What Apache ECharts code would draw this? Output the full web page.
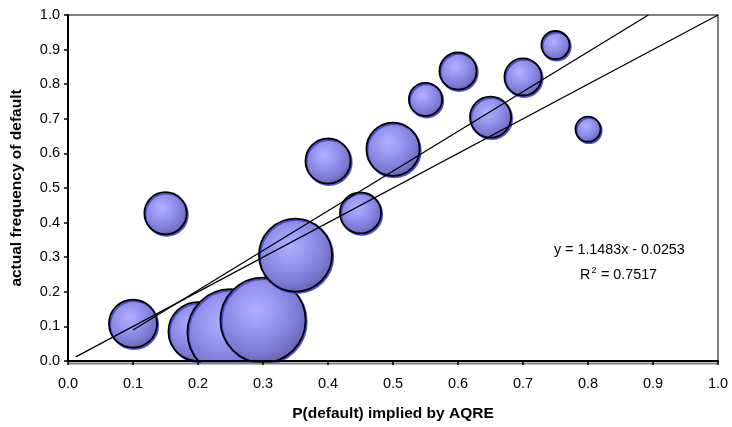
<!DOCTYPE html>
<html>
<head>
<meta charset="utf-8">
<script src="https://cdn.jsdelivr.net/npm/echarts@6/dist/echarts.min.js"></script>
<style>
  html, body { margin: 0; padding: 0; background: #fff; }
  #chart { width: 732px; height: 427px; }
</style>
</head>
<body>
<div id="chart"></div>
<script>
// Implied probability of default (AQRE) per bin
const impliedP = [0.10, 0.15, 0.20, 0.25, 0.30, 0.35, 0.40, 0.45, 0.50, 0.55, 0.60, 0.65, 0.70, 0.75, 0.80];
// Observed frequency of default per bin
const actualFreq = [0.108, 0.427, 0.085, 0.083, 0.118, 0.306, 0.578, 0.428, 0.612, 0.756, 0.838, 0.705, 0.821, 0.913, 0.670];
// Number of observations per bin (bubble area)
const binCount = [69, 54, 103, 215, 210, 156, 61, 51, 84, 34, 42, 51, 42, 25, 20];
// Axis ticks
const tickValues = [0.0, 0.1, 0.2, 0.3, 0.4, 0.5, 0.6, 0.7, 0.8, 0.9, 1.0];
// Linear fit reported on the chart
const fitSlope = 1.1483;
const fitIntercept = -0.0253;
const fitR2 = 0.7517;
// 45-degree reference line
const diagonal = [[0.012, 0.012], [1.0, 1.0]];

const bubbleData = impliedP.map((x, i) => [x, actualFreq[i], binCount[i]]);
const fitStart = Math.min(...impliedP);
const fitEnd = (1.0 - fitIntercept) / fitSlope;
const fitLine = [[fitStart, fitSlope * fitStart + fitIntercept], [fitEnd, 1.0]];

const BW = 1.8;
const bubbleFill = {
  type: 'radial', x: 0.42, y: 0.38, r: 0.64,
  colorStops: [
    { offset: 0, color: '#b0b0ff' },
    { offset: 0.45, color: '#9292ee' },
    { offset: 0.8, color: '#7878cf' },
    { offset: 1, color: '#6464ac' }
  ]
};

const chart = echarts.init(document.getElementById('chart'), null, { renderer: 'canvas' });
const fontFamily = '"Liberation Sans", Arial, sans-serif';
const tickFont = 14.5;

chart.setOption({
  animation: false,
  backgroundColor: '#fff',
  grid: {
    left: 68, right: 14, top: 15, bottom: 65,
    show: true, borderColor: '#808080', borderWidth: 2, backgroundColor: 'transparent'
  },
  xAxis: {
    type: 'value', min: 0, max: 1, interval: 0.1, z: 10,
    name: 'P(default) implied by AQRE', nameLocation: 'middle', nameGap: 45,
    nameTextStyle: { fontFamily, fontSize: 15.5, fontWeight: 'bold', color: '#000' },
    axisLine: { show: true, onZero: false, lineStyle: { color: '#000', width: 2 } },
    axisTick: { show: true, inside: false, length: 4, lineStyle: { color: '#000', width: 1.5 } },
    axisLabel: { fontFamily, fontSize: tickFont, color: '#000', margin: 15,
      formatter: v => v.toFixed(1) },
    splitLine: { show: false }
  },
  yAxis: {
    type: 'value', min: 0, max: 1, interval: 0.1, z: 10,
    name: 'actual frequency of default', nameLocation: 'middle', nameGap: 43,
    nameTextStyle: { fontFamily, fontSize: 15.5, fontWeight: 'bold', color: '#000' },
    axisLine: { show: true, onZero: false, lineStyle: { color: '#000', width: 2 } },
    axisTick: { show: true, inside: false, length: 4, lineStyle: { color: '#000', width: 1.5 } },
    axisLabel: { fontFamily, fontSize: tickFont, color: '#000', margin: 8,
      formatter: v => v.toFixed(1) },
    splitLine: { show: false }
  },
  graphic: [
    // mask bubble overflow beneath the x axis
    { type: 'rect', z: 5, silent: true, shape: { x: 0, y: 363, width: 732, height: 64 },
      style: { fill: '#fff' } },
    { type: 'line', z: 6, silent: true, shape: { x1: 68, y1: 363.5, x2: 718, y2: 363.5 },
      style: { stroke: '#808080', lineWidth: 2 } },
    // regression equation and R squared
    { type: 'text', z: 20, left: 554, top: 243,
      style: { text: 'y = ' + fitSlope.toFixed(4) + 'x - ' + Math.abs(fitIntercept).toFixed(4),
        font: '14.3px ' + fontFamily, fill: '#000' } },
    { type: 'text', z: 20, left: 580, top: 268,
      style: { text: 'R', font: '14.3px ' + fontFamily, fill: '#000' } },
    { type: 'text', z: 20, left: 591.5, top: 266.5,
      style: { text: '2', font: '9px ' + fontFamily, fill: '#000' } },
    { type: 'text', z: 20, left: 601, top: 268,
      style: { text: '= ' + fitR2.toFixed(4), font: '14.3px ' + fontFamily, fill: '#000' } }
  ],
  series: [
    {
      type: 'scatter', z: 2, clip: false,
      data: bubbleData,
      symbol: 'circle',
      symbolSize: d => 6 * Math.sqrt(d[2]) - BW,
      itemStyle: {
        color: bubbleFill, borderColor: '#000', borderWidth: BW, opacity: 1,
        shadowColor: 'rgba(70,70,210,0.9)', shadowOffsetX: 1.2, shadowOffsetY: 1.5, shadowBlur: 0.5
      },
      emphasis: { disabled: true }
    },
    {
      type: 'line', z: 3, data: diagonal, showSymbol: false, symbol: 'none',
      lineStyle: { color: '#000', width: 1.3 }, emphasis: { disabled: true }
    },
    {
      type: 'line', z: 3, data: fitLine, showSymbol: false, symbol: 'none',
      lineStyle: { color: '#000', width: 1.3 }, emphasis: { disabled: true }
    }
  ]
});
</script>
</body>
</html>
